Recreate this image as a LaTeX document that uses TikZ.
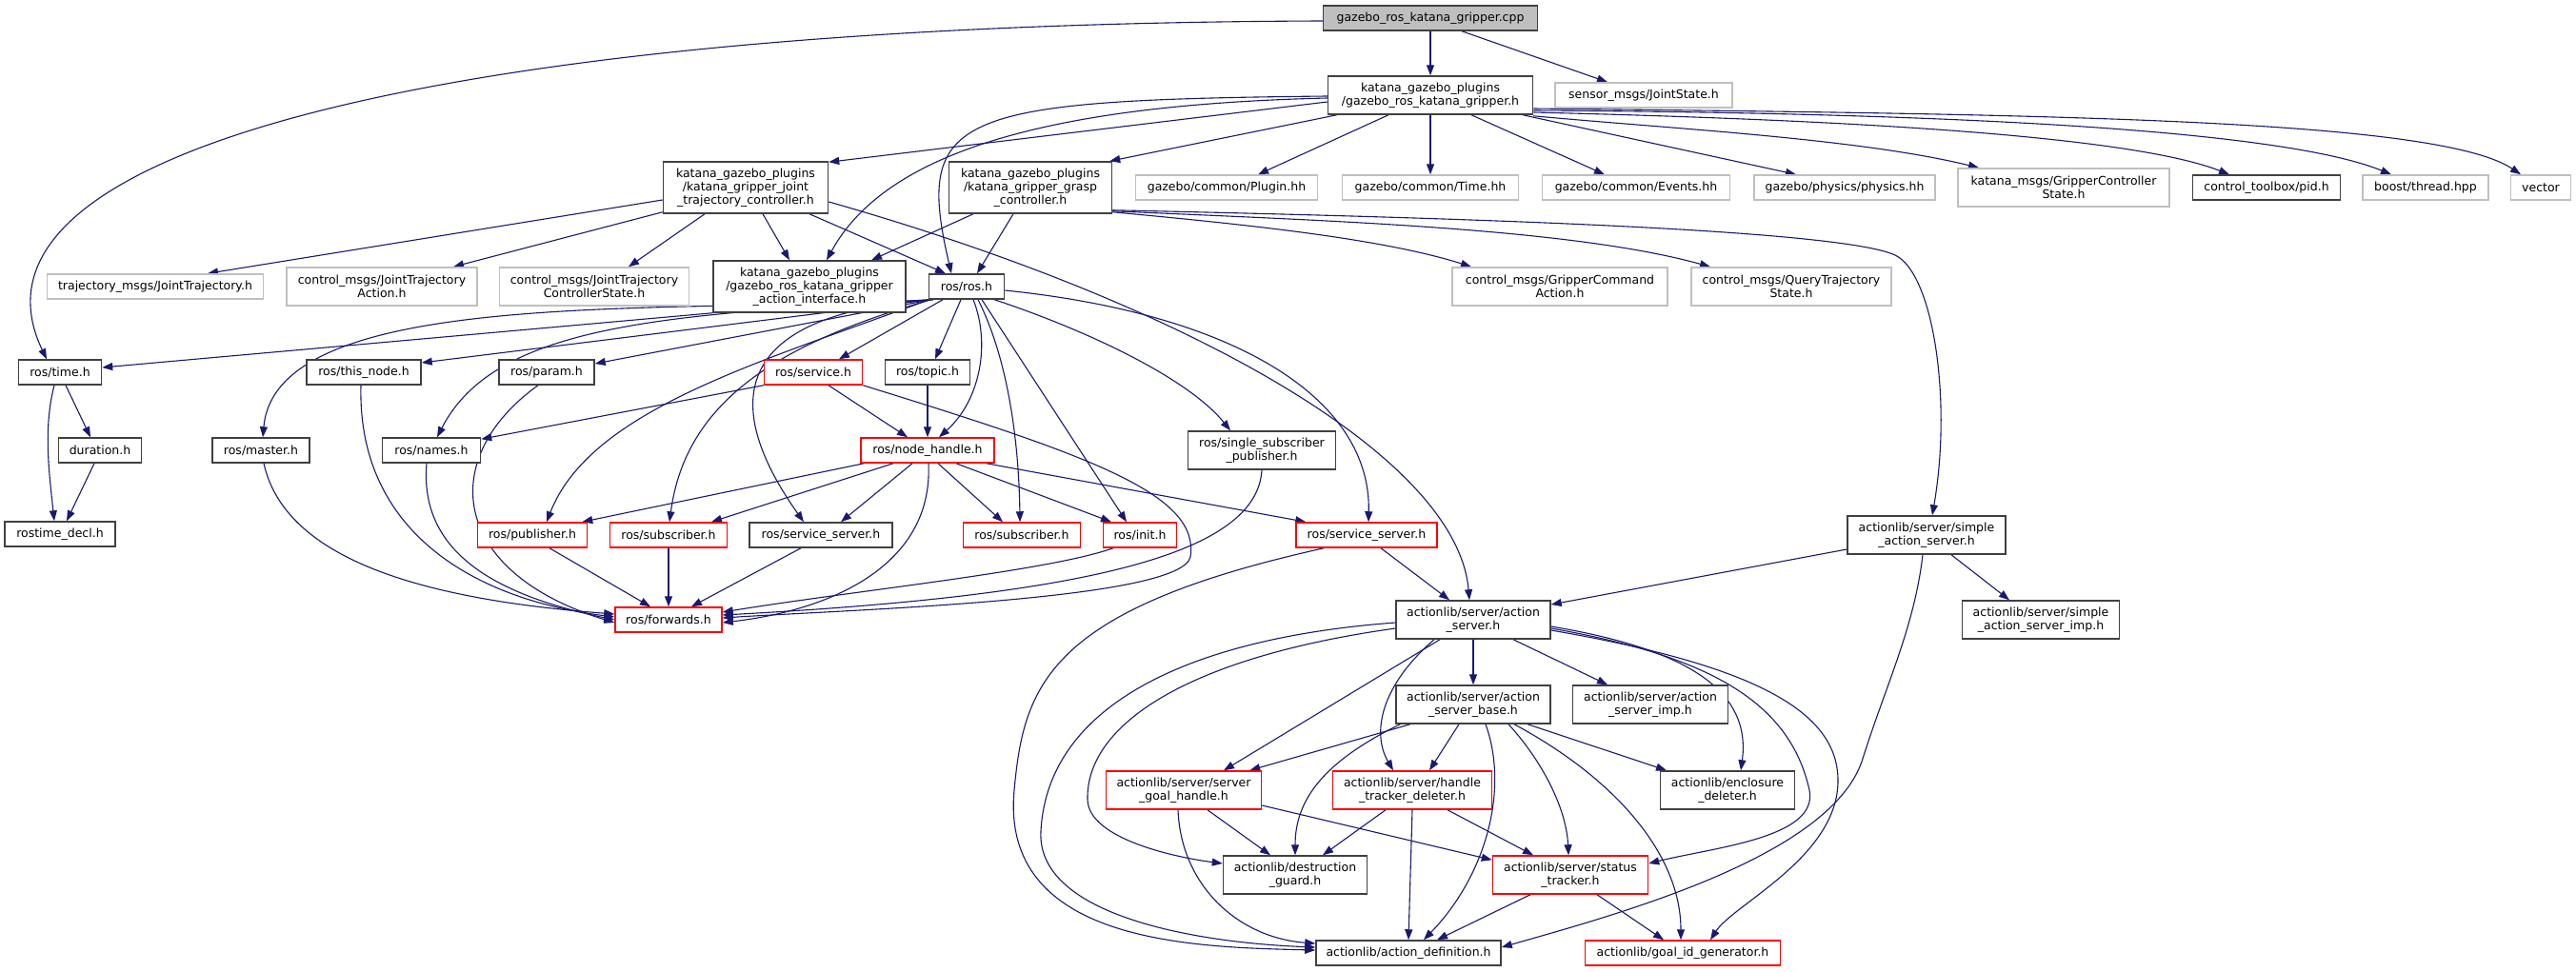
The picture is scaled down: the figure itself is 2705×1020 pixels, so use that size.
\documentclass[tikz,border=0pt]{standalone}
\usepackage{fontspec}
\setmainfont{DejaVu Sans}
\usetikzlibrary{arrows.meta,calc}
\pgfdeclarelayer{back}
\pgfdeclarelayer{bg}
\pgfsetlayers{back,bg,main}
\definecolor{eblue}{HTML}{191970}
\definecolor{blk}{HTML}{404040}
\definecolor{gry}{HTML}{BFBFBF}
\definecolor{rd}{HTML}{FF0000}
\newcommand\nodefont{\fontsize{12.5}{14}\selectfont}
\newcommand\mybox[6]{\node[#1,minimum width=#4pt,minimum height=#5pt] (#2) at (#3) {#6};}
\begin{document}
\begin{tikzpicture}[x=1pt,y=-1pt,
 nb/.style={draw=blk,line width=1.5pt,fill=white,inner sep=0pt,align=center,font=\nodefont,text=black},
 nr/.style={nb,draw=rd},
 ng/.style={nb,draw=gry},
 e/.style={draw=eblue,line width=1.1pt,-{Triangle[length=11pt,width=8pt]}},
 ]
\useasboundingbox (0,0) rectangle (2705,1020);
\begin{pgfonlayer}{back}
\fill[white] (0,0) rectangle (2705,1020);
\end{pgfonlayer}
% row 1-2
\mybox{nb,fill=gry}{root}{1502,19}{225}{26}{gazebo\_ros\_katana\_gripper.cpp}
\mybox{nb}{hdr}{1502,100}{215}{40}{katana\_gazebo\_plugins\\/gazebo\_ros\_katana\_gripper.h}
\mybox{ng}{jsh}{1726,100}{186}{26}{sensor\_msgs/JointState.h}
% row 3
\mybox{nb}{jtc}{783,197}{173}{54}{katana\_gazebo\_plugins\\/katana\_gripper\_joint\\\_trajectory\_controller.h}
\mybox{nb}{grasp}{1082,197}{171}{54}{katana\_gazebo\_plugins\\/katana\_gripper\_grasp\\\_controller.h}
\mybox{ng}{plugin}{1288,197}{191}{26}{gazebo/common/Plugin.hh}
\mybox{ng}{timehh}{1502,197}{185}{26}{gazebo/common/Time.hh}
\mybox{ng}{events}{1718,197}{197}{26}{gazebo/common/Events.hh}
\mybox{ng}{physics}{1937,197}{190}{26}{gazebo/physics/physics.hh}
\mybox{ng}{gcs}{2167,197}{222}{40}{katana\_msgs/GripperController\\State.h}
\mybox{nb}{pid}{2380,197}{155}{26}{control\_toolbox/pid.h}
\mybox{ng}{thread}{2547,197}{132}{26}{boost/thread.hpp}
\mybox{ng}{vector}{2668,197}{63}{26}{vector}
% row 4
\mybox{ng}{trajmsg}{163,301}{227}{26}{trajectory\_msgs/JointTrajectory.h}
\mybox{ng}{jta}{401,301}{200}{40}{control\_msgs/JointTrajectory\\Action.h}
\mybox{ng}{jtcs}{624,301}{199}{40}{control\_msgs/JointTrajectory\\ControllerState.h}
\mybox{nb}{ai}{850,301}{202}{54}{katana\_gazebo\_plugins\\/gazebo\_ros\_katana\_gripper\\\_action\_interface.h}
\mybox{nb}{rosh}{1015,301}{79}{26}{ros/ros.h}
\mybox{ng}{gca}{1638,301}{226}{40}{control\_msgs/GripperCommand\\Action.h}
\mybox{ng}{qts}{1881,301}{210}{40}{control\_msgs/QueryTrajectory\\State.h}
% row 5
\mybox{nb}{time}{63,391}{87}{26}{ros/time.h}
\mybox{nb}{thisnode}{382,391}{120}{26}{ros/this\_node.h}
\mybox{nb}{param}{574,391}{100}{26}{ros/param.h}
\mybox{nr}{service}{854,391}{103}{26}{ros/service.h}
\mybox{nb}{topic}{974,391}{89}{26}{ros/topic.h}
% row 6
\mybox{nb}{duration}{105,473}{87}{26}{duration.h}
\mybox{nb}{master}{274,473}{102}{26}{ros/master.h}
\mybox{nb}{names}{453,473}{103}{26}{ros/names.h}
\mybox{nr}{nh}{974,473}{140}{26}{ros/node\_handle.h}
\mybox{nb}{ssp}{1325,473}{155}{40}{ros/single\_subscriber\\\_publisher.h}
% row 7
\mybox{nb}{rtd}{63,561}{116}{26}{rostime\_decl.h}
\mybox{nr}{pub}{559,562}{115}{26}{ros/publisher.h}
\mybox{nr}{sub1}{702,562}{123}{26}{ros/subscriber.h}
\mybox{nb}{ssb}{862,562}{150}{26}{ros/service\_server.h}
\mybox{nr}{sub2}{1073,562}{123}{26}{ros/subscriber.h}
\mybox{nr}{init}{1197,562}{77}{26}{ros/init.h}
\mybox{nr}{ssr}{1435,562}{148}{26}{ros/service\_server.h}
\mybox{nb}{sas}{2023,562}{166}{40}{actionlib/server/simple\\\_action\_server.h}
% row 8
\mybox{nr}{fwd}{702,651}{112}{26}{ros/forwards.h}
\mybox{nb}{as}{1547,651}{162}{40}{actionlib/server/action\\\_server.h}
\mybox{nb}{sasimp}{2143,651}{165}{40}{actionlib/server/simple\\\_action\_server\_imp.h}
% row 9
\mybox{nb}{asb}{1547,740}{162}{40}{actionlib/server/action\\\_server\_base.h}
\mybox{nb}{asimp}{1733,740}{163}{40}{actionlib/server/action\\\_server\_imp.h}
% row 10
\mybox{nr}{sgh}{1243,830}{163}{40}{actionlib/server/server\\\_goal\_handle.h}
\mybox{nr}{htd}{1483,830}{167}{40}{actionlib/server/handle\\\_tracker\_deleter.h}
\mybox{nb}{encl}{1814,830}{141}{40}{actionlib/enclosure\\\_deleter.h}
% row 11
\mybox{nb}{dg}{1360,919}{151}{40}{actionlib/destruction\\\_guard.h}
\mybox{nr}{st}{1649,919}{163}{40}{actionlib/server/status\\\_tracker.h}
% row 12
\mybox{nb}{ad}{1479,1001}{194}{26}{actionlib/action\_definition.h}
\mybox{nr}{gid}{1767,1001}{205}{26}{actionlib/goal\_id\_generator.h}

\begin{pgfonlayer}{bg}
% root
\draw[e] (root.south) -- (hdr.north);
\draw[e] ($(root.south)+(33,0)$) -- ($(jsh.north)+(-38,0)$);
\draw[e] ($(root.west)+(0,3)$) .. controls (500,25) and (-60,150) .. ($(time.north)+(-14,0)$);
% header
\draw[e] ($(hdr.west)+(0,7)$) -- ($(jtc.north east)+(0,1)$);
\draw[e] ($(hdr.west)+(0,3)$) .. controls (1100,110) and (930,160) .. ($(ai.north)+(18,0)$);
\draw[e] ($(hdr.west)+(0,1)$) .. controls (1000,105) and (960,120) .. ($(rosh.north)+(-16,0)$);
\draw[e] ($(hdr.south west)+(10,0)$) -- ($(grasp.north east)+(-3,0)$);
\draw[e] ($(hdr.south)+(-44,0)$) -- ($(plugin.north)+(33,0)$);
\draw[e] (hdr.south) -- (timehh.north);
\draw[e] ($(hdr.south)+(43,0)$) -- ($(events.north)+(-33,0)$);
\draw[e] ($(hdr.south)+(97,0)$) -- ($(physics.north)+(-51,0)$);
\draw[e] ($(hdr.south east)+(0,1)$) .. controls (1750,135) and (1950,145) .. ($(gcs.north)+(-89,0)$);
\draw[e] ($(hdr.east)+(0,18)$) .. controls (1900,125) and (2230,140) .. ($(pid.north)+(-39,0)$);
\draw[e] ($(hdr.east)+(0,16)$) .. controls (1950,118) and (2380,130) .. ($(thread.north)+(-36,0)$);
\draw[e] ($(hdr.east)+(0,14)$) .. controls (2150,120) and (2560,125) .. ($(vector.north)+(-21,0)$);
% joint trajectory controller
\draw[e] ($(jtc.west)+(0,13)$) -- ($(trajmsg.north)+(55,0)$);
\draw[e] ($(jtc.south west)+(0,-2)$) -- ($(jta.north)+(75,0)$);
\draw[e] ($(jtc.south)+(-43,0)$) -- ($(jtcs.north)+(36,0)$);
\draw[e] ($(jtc.south)+(18,0)$) -- ($(ai.north)+(-21,0)$);
\draw[e] ($(jtc.south)+(67,0)$) -- ($(rosh.north)+(-22,0)$);
\draw[e] ($(jtc.east)+(0,15)$) .. controls (1250,320) and (1530,480) .. ($(as.north)+(-4,0)$);
% grasp controller
\draw[e] ($(grasp.south)+(-60,0)$) -- ($(ai.north)+(65,0)$);
\draw[e] ($(grasp.south)+(-18,0)$) -- ($(rosh.north)+(11,0)$);
\draw[e] ($(grasp.south east)+(0,-2)$) .. controls (1300,235) and (1450,250) .. ($(gca.north)+(-93,0)$);
\draw[e] ($(grasp.south east)+(0,-3)$) .. controls (1400,232) and (1650,240) .. ($(qts.north)+(-85,0)$);
\draw[e] ($(grasp.south east)+(0,-4)$) .. controls (1500,228) and (1930,240) .. (1990,268) .. controls (2030,287) and (2050,420) .. ($(sas.north)+(6,0)$);
% action interface
\draw[e] (ai.south west) -- ($(time.east)+(0,-5)$);
% ros.h
\draw[e] ($(rosh.south west)+(2,0)$) -- ($(thisnode.east)+(0,-10)$);
\draw[e] ($(rosh.south west)+(3,0)$) -- ($(param.east)+(0,-9)$);
\draw[e] ($(rosh.south west)+(4,0)$) .. controls (700,330) and (290,300) .. ($(master.north)+(2,0)$);
\draw[e] ($(rosh.south west)+(5,0)$) .. controls (700,330) and (520,340) .. ($(names.north)+(6,0)$);
\draw[e] ($(rosh.south)+(-25,0)$) -- ($(service.north)+(27,0)$);
\draw[e] ($(rosh.south)+(-6,0)$) -- ($(topic.north)+(8,0)$);
\draw[e] ($(rosh.south)+(7,0)$) .. controls (1040,360) and (1030,420) .. ($(nh.north)+(12,0)$);
\draw[e] ($(rosh.south west)+(1,0)$) .. controls (800,380) and (620,430) .. ($(pub.north)+(15,0)$);
\draw[e] ($(rosh.south west)+(3,0)$) .. controls (820,360) and (720,420) .. ($(sub1.north)+(1,0)$);
\draw[e] ($(rosh.south west)+(5,0)$) .. controls (760,330) and (760,430) .. ($(ssb.north)+(-18,0)$);
\draw[e] ($(rosh.south)+(12,0)$) .. controls (1060,380) and (1070,470) .. ($(sub2.north)+(-2,0)$);
\draw[e] ($(rosh.south)+(16,0)$) -- ($(init.north)+(-14,0)$);
\draw[e] ($(rosh.south east)+(-11,0)$) .. controls (1150,350) and (1250,400) .. ($(ssp.north)+(-33,0)$);
\draw[e] ($(rosh.east)+(0,4)$) .. controls (1300,330) and (1440,420) .. ($(ssr.north)+(2,0)$);
% service.h
\draw[e] (service.south west) -- ($(names.north east)+(0,2)$);
\draw[e] ($(service.south)+(16,0)$) -- ($(nh.north)+(-21,0)$);
\draw[e] (service.south east) .. controls (1150,480) and (1260,520) .. (1250,585) .. controls (1240,630) and (900,640) .. ($(fwd.east)+(0,-2)$);
% topic
\draw[e] (topic.south) -- (nh.north);
% node handle
\draw[e] ($(nh.south west)+(4,0)$) -- ($(pub.north east)+(-6,0)$);
\draw[e] ($(nh.south)+(-36,0)$) -- ($(sub1.north)+(45,0)$);
\draw[e] ($(nh.south)+(-16,0)$) -- ($(ssb.north)+(21,0)$);
\draw[e] ($(nh.south)+(1,0)$) .. controls (980,590) and (880,640) .. ($(fwd.east)+(0,3)$);
\draw[e] ($(nh.south)+(11,0)$) -- ($(sub2.north)+(-20,0)$);
\draw[e] ($(nh.south)+(30,0)$) -- ($(init.north)+(-30,0)$);
\draw[e] ($(nh.south east)+(-9,0)$) -- ($(ssr.north west)+(11,0)$);
% into forwards
\draw[e] (ssp.south) .. controls (1320,580) and (1150,625) .. ($(fwd.east)+(0,-5)$);
\draw[e] ($(init.south)+(-28,0)$) .. controls (1100,600) and (900,620) .. ($(fwd.east)+(0,-8)$);
\draw[e] ($(master.south)+(3,0)$) .. controls (300,590) and (450,630) .. ($(fwd.west)+(0,-6)$);
\draw[e] ($(thisnode.south)+(-3,0)$) .. controls (375,560) and (500,630) .. ($(fwd.west)+(0,-3)$);
\draw[e] ($(names.south)+(-5,0)$) .. controls (440,580) and (520,625) .. (fwd.west);
\draw[e] ($(param.south)+(-9,0)$) .. controls (460,480) and (470,600) .. ($(fwd.west)+(0,3)$);
\draw[e] ($(pub.south)+(18,0)$) -- ($(fwd.north)+(-19,0)$);
\draw[e] (sub1.south) -- (fwd.north);
\draw[e] ($(ssb.south)+(-21,0)$) -- ($(fwd.north)+(24,0)$);
% time
\draw[e] ($(time.south)+(6,0)$) -- ($(duration.north)+(-10,0)$);
\draw[e] ($(time.south)+(-6,0)$) .. controls (45,450) and (52,500) .. ($(rtd.north)+(-6,0)$);
\draw[e] ($(duration.south)+(-6,0)$) -- ($(rtd.north)+(7,0)$);
% service server (red)
\draw[e] ($(ssr.south)+(15,0)$) -- ($(as.north)+(-25,0)$);
\draw[e] ($(ssr.south west)+(30,0)$) .. controls (1100,640) and (1075,720) .. (1065,830) .. controls (1050,990) and (1250,995) .. ($(ad.west)+(0,-3)$);
% action server
\draw[e] (as.south) -- (asb.north);
\draw[e] ($(as.south)+(42,0)$) -- ($(asimp.north)+(-45,0)$);
\draw[e] ($(as.south)+(-35,0)$) -- ($(sgh.north)+(42,0)$);
\draw[e] ($(as.south)+(-41,0)$) .. controls (1450,720) and (1440,770) .. ($(htd.north)+(-20,0)$);
\draw[e] ($(as.west)+(0,9)$) .. controls (1250,690) and (1140,760) .. (1142,840) .. controls (1143,880) and (1230,900) .. ($(dg.west)+(0,-12)$);
\draw[e] ($(as.west)+(0,3)$) .. controls (1250,670) and (1100,740) .. (1093,873) .. controls (1088,960) and (1250,990) .. ($(ad.west)+(0,-6)$);
\draw[e] ($(as.east)+(0,7)$) .. controls (1760,680) and (1840,720) .. ($(encl.north)+(14,0)$);
\draw[e] ($(as.east)+(0,9)$) .. controls (1800,690) and (1880,740) .. (1900,830) .. controls (1910,880) and (1800,890) .. ($(st.east)+(0,-12)$);
\draw[e] ($(as.east)+(0,11)$) .. controls (1850,700) and (1930,750) .. (1930,820) .. controls (1930,900) and (1820,950) .. ($(gid.north)+(29,0)$);
% action server base
\draw[e] ($(asb.south)+(-66,0)$) -- ($(sgh.north east)+(-13,0)$);
\draw[e] ($(asb.south)+(-15,0)$) -- ($(htd.north)+(18,0)$);
\draw[e] ($(asb.south west)+(5,0)$) .. controls (1390,800) and (1360,840) .. (dg.north);
\draw[e] ($(asb.south)+(13,0)$) .. controls (1585,830) and (1560,920) .. ($(ad.north)+(16,0)$);
\draw[e] ($(asb.south)+(37,0)$) .. controls (1620,800) and (1645,850) .. ($(st.north)+(-2,0)$);
\draw[e] ($(asb.south)+(43,0)$) .. controls (1700,820) and (1765,900) .. ($(gid.north)+(-2,0)$);
\draw[e] ($(asb.south)+(57,0)$) -- ($(encl.north)+(-64,0)$);
% simple action server
\draw[e] ($(sas.west)+(0,15)$) -- ($(as.east)+(0,-16)$);
\draw[e] ($(sas.south)+(26,0)$) -- ($(sasimp.north)+(-33,0)$);
\draw[e] ($(sas.south)+(-4,0)$) .. controls (2010,660) and (1980,720) .. (1955,800) .. controls (1920,900) and (1700,960) .. ($(ad.east)+(0,-6)$);
% server goal handle
\draw[e] ($(sgh.south)+(25,0)$) -- ($(dg.north)+(-26,0)$);
\draw[e] ($(sgh.east)+(0,16)$) -- ($(st.north west)+(0,5)$);
\draw[e] ($(sgh.south)+(-6,0)$) .. controls (1240,930) and (1300,985) .. ($(ad.west)+(0,-10)$);
% handle tracker deleter
\draw[e] ($(htd.south)+(-28,0)$) -- ($(dg.north)+(29,0)$);
\draw[e] (htd.south) -- (ad.north);
\draw[e] ($(htd.south)+(37,0)$) -- ($(st.north)+(-39,0)$);
% status tracker
\draw[e] ($(st.south)+(-42,0)$) -- ($(ad.north)+(30,0)$);
\draw[e] ($(st.south)+(28,0)$) -- ($(gid.north)+(-20,0)$);
\end{pgfonlayer}
\end{tikzpicture}
\end{document}
